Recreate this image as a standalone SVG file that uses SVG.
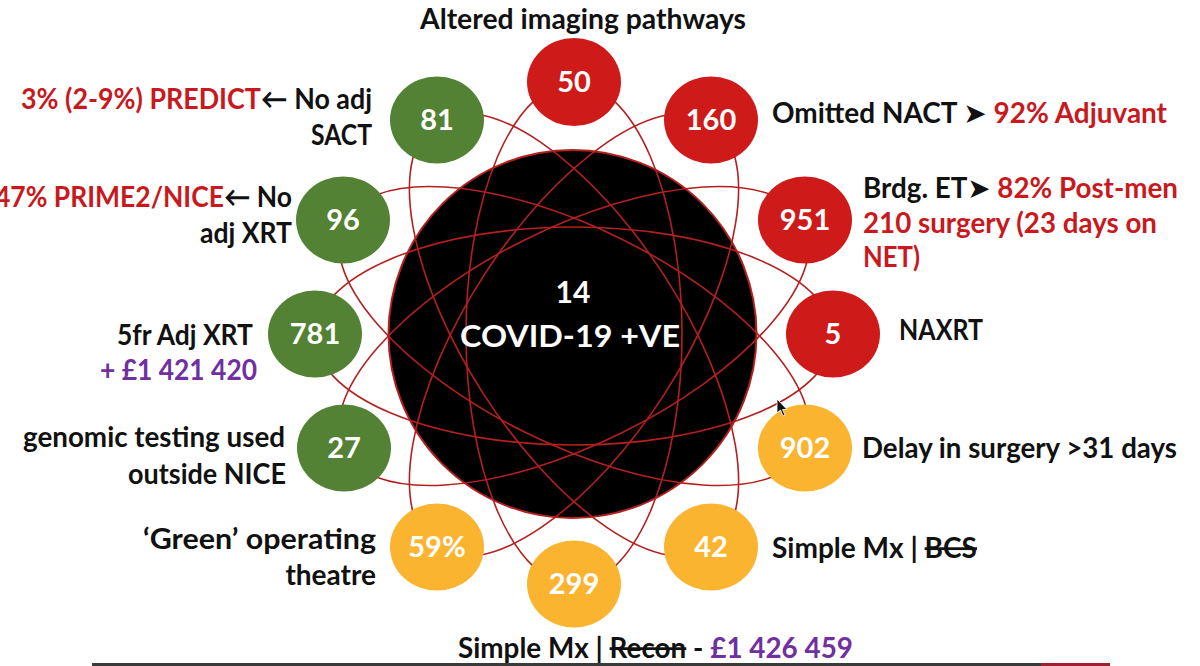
<svg xmlns="http://www.w3.org/2000/svg" width="1200" height="666" viewBox="0 0 1200 666">
<style>
  text { font-family: Lato, "Open Sans", "DejaVu Sans", sans-serif; font-weight: bold; }
  .lbl { font-size: 28px; fill: #111111; }
  .red { fill: #C8191E; }
  .pur { fill: #7030A0; }
  .blk { fill: #111111; }
  .num { font-size: 29px; fill: #FFFFFF; text-anchor: middle; }
  .ctr { font-size: 30px; fill: #FFFFFF; text-anchor: middle; }
  .nr { fill: #CF1A1A; }
  .ng { fill: #548235; }
  .ny { fill: #FBB430; }
  .orbit { fill: none; stroke: #B3201F; stroke-width: 1.6; }
  .strike { text-decoration: line-through; }
</style>

<rect x="0" y="0" width="1200" height="666" fill="#FFFFFF"/>

<g id="center-circle">
  <circle cx="572.5" cy="334" r="184" fill="#000000" stroke="#B3201F" stroke-width="2"/>
</g>

<g id="connectors">
  <ellipse class="orbit" cx="0" cy="0" rx="251" ry="108" transform="translate(574,334) rotate(90)"/>
  <ellipse class="orbit" cx="0" cy="0" rx="254" ry="108" transform="translate(574,335) rotate(-57.3)"/>
  <ellipse class="orbit" cx="0" cy="0" rx="257" ry="108" transform="translate(574,336) rotate(-26.3)"/>
  <ellipse class="orbit" cx="0" cy="0" rx="259" ry="109" transform="translate(574,336) rotate(0)"/>
  <ellipse class="orbit" cx="0" cy="0" rx="257" ry="108" transform="translate(574,336) rotate(26.3)"/>
  <ellipse class="orbit" cx="0" cy="0" rx="254" ry="108" transform="translate(574,335) rotate(57.3)"/>
</g>

<g id="center">
  <text class="ctr" x="573" y="303">14</text>
  <text class="ctr" x="570" y="347" textLength="220" lengthAdjust="spacingAndGlyphs">COVID-19 +VE</text>
</g>

<g id="node-50">
  <ellipse class="nr" cx="574" cy="82" rx="47" ry="44"/>
  <text class="num" x="574" y="92">50</text>
  <text class="lbl" x="420" y="29" textLength="326" lengthAdjust="spacingAndGlyphs">Altered imaging pathways</text>
</g>

<g id="node-160">
  <ellipse class="nr" cx="711" cy="120" rx="47" ry="43.5"/>
  <text class="num" x="711" y="130">160</text>
  <text class="lbl" x="772" y="123" textLength="395" lengthAdjust="spacingAndGlyphs"><tspan class="blk">Omitted NACT </tspan><tspan class="blk" font-family="'DejaVu Sans', sans-serif">➤</tspan><tspan class="red"> 92% Adjuvant</tspan></text>
</g>

<g id="node-951">
  <ellipse class="nr" cx="805" cy="220" rx="47" ry="43.5"/>
  <text class="num" x="805" y="230">951</text>
  <text class="lbl" x="863" y="198" textLength="315" lengthAdjust="spacingAndGlyphs"><tspan class="blk">Brdg. ET</tspan><tspan class="blk" font-family="'DejaVu Sans', sans-serif">➤</tspan><tspan class="red"> 82% Post-men</tspan></text>
  <text class="lbl red" x="863" y="233" textLength="294" lengthAdjust="spacingAndGlyphs">210 surgery (23 days on</text>
  <text class="lbl red" x="863" y="267" textLength="57" lengthAdjust="spacingAndGlyphs">NET)</text>
</g>

<g id="node-5">
  <ellipse class="nr" cx="833" cy="334" rx="47" ry="43.5"/>
  <text class="num" x="833" y="344">5</text>
  <text class="lbl" x="899" y="340" textLength="84" lengthAdjust="spacingAndGlyphs">NAXRT</text>
</g>

<g id="node-902">
  <ellipse class="ny" cx="805" cy="448" rx="47" ry="43.5"/>
  <text class="num" x="805" y="458">902</text>
  <text class="lbl" x="862" y="458" textLength="315" lengthAdjust="spacingAndGlyphs">Delay in surgery &gt;31 days</text>
</g>

<g id="node-42">
  <ellipse class="ny" cx="711" cy="547" rx="47" ry="43.5"/>
  <text class="num" x="711" y="557">42</text>
  <text class="lbl" x="772" y="558" textLength="205" lengthAdjust="spacingAndGlyphs">Simple Mx | <tspan class="strike">BCS</tspan></text>
</g>

<g id="node-299">
  <ellipse class="ny" cx="574" cy="584" rx="47" ry="43.5"/>
  <text class="num" x="574" y="594">299</text>
  <text class="lbl" x="458" y="658" textLength="395" lengthAdjust="spacingAndGlyphs"><tspan class="blk">Simple Mx | </tspan><tspan class="blk strike">Recon</tspan><tspan class="blk"> - </tspan><tspan class="pur">£1 426 459</tspan></text>
</g>

<g id="node-59">
  <ellipse class="ny" cx="437" cy="547" rx="47" ry="43.5"/>
  <text class="num" x="437" y="557">59%</text>
  <text class="lbl" x="143" y="549" textLength="233" lengthAdjust="spacingAndGlyphs">‘Green’ operating</text>
  <text class="lbl" x="376" y="585" text-anchor="end">theatre</text>
</g>

<g id="node-27">
  <ellipse class="ng" cx="344" cy="448" rx="47" ry="43.5"/>
  <text class="num" x="344" y="458">27</text>
  <text class="lbl" x="23" y="447" textLength="262" lengthAdjust="spacingAndGlyphs">genomic testing used</text>
  <text class="lbl" x="128" y="484" textLength="158" lengthAdjust="spacingAndGlyphs">outside NICE</text>
</g>

<g id="node-781">
  <ellipse class="ng" cx="315" cy="334" rx="47" ry="43.5"/>
  <text class="num" x="315" y="344">781</text>
  <text class="lbl" x="117" y="345" textLength="136" lengthAdjust="spacingAndGlyphs">5fr Adj XRT</text>
  <text class="lbl pur" x="100" y="380" textLength="157" lengthAdjust="spacingAndGlyphs">+ £1 421 420</text>
</g>

<g id="node-96">
  <ellipse class="ng" cx="343" cy="220" rx="47" ry="43.5"/>
  <text class="num" x="343" y="230">96</text>
  <text class="lbl" x="-5" y="207" textLength="297" lengthAdjust="spacingAndGlyphs"><tspan class="red">47% PRIME2/NICE</tspan><tspan class="blk">← No</tspan></text>
  <text class="lbl" x="200" y="243" textLength="92" lengthAdjust="spacingAndGlyphs">adj XRT</text>
</g>

<g id="node-81">
  <ellipse class="ng" cx="437" cy="120" rx="47" ry="43.5"/>
  <text class="num" x="437" y="130">81</text>
  <text class="lbl" x="21" y="109" textLength="351" lengthAdjust="spacingAndGlyphs"><tspan class="red">3% (2-9%) PREDICT</tspan><tspan class="blk">← No adj</tspan></text>
  <text class="lbl" x="311" y="145" textLength="61" lengthAdjust="spacingAndGlyphs">SACT</text>
</g>

<path d="M777,399 L777,413 L780.5,410 L783,416 L785,415 L782.5,409.5 L787,409.5 Z" fill="#111111" stroke="#FFFFFF" stroke-width="0.8"/>

<rect x="92" y="663" width="1018" height="3" fill="#3A3A3A"/>
<rect x="1041" y="663" width="69" height="3" fill="#A02030"/>
</svg>
